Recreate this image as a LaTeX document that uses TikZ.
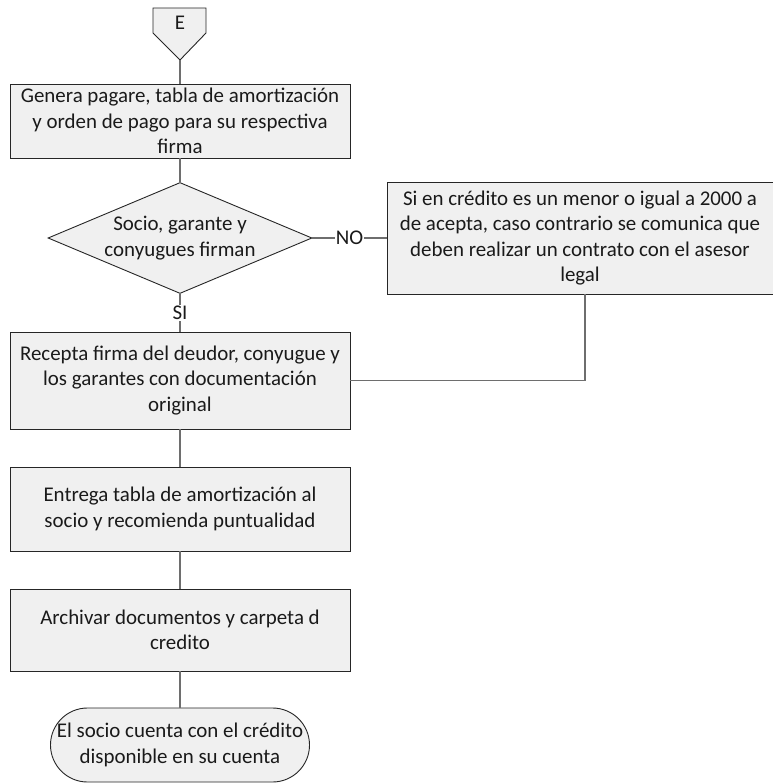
\documentclass[tikz,border=0pt]{standalone}
\usepackage{fontspec}
\setmainfont{Carlito}
\usetikzlibrary{shapes.geometric}
\definecolor{boxfill}{HTML}{F0F0F0}
\definecolor{boxline}{HTML}{262626}
\definecolor{conn}{HTML}{6E6E6E}
\definecolor{txt}{HTML}{1A1A1A}
\begin{document}
\begin{tikzpicture}[x=1bp,y=-1bp,
  every node/.style={font=\fontsize{21}{25.5}\selectfont, text=txt},
  procbox/.style={draw=boxline, line width=0.9bp, fill=boxfill, rectangle, align=center, inner sep=0pt},
  decbox/.style={draw=boxline, line width=0.9bp, fill=boxfill, diamond, inner sep=0pt},
  termbox/.style={draw=boxline, line width=0.9bp, fill=boxfill, rectangle, rounded corners=37bp, align=center, inner sep=0pt},
  conline/.style={draw=conn, line width=1.1bp},
  lbl/.style={fill=white, inner sep=1pt}
]
\useasboundingbox (0,0) rectangle (773,783);
% off-page connector
\draw[boxline, line width=0.9bp, fill=boxfill] (153,8) -- (206,8) -- (206,33) -- (180,60) -- (153,33) -- cycle;
\node (E) at (180,23) {E};
\coordinate (Etip) at (180,60);
% process boxes
\node[procbox, minimum width=340bp, minimum height=74bp] (b1) at (180,121)
  {Genera pagare, tabla de amortización\\y orden de pago para su respectiva\\firma};
\node[decbox, minimum width=264bp, minimum height=111bp] (dia) at (180,238) {};
\node[align=center] (diatext) at (180,238) {Socio, garante y\\conyugues firman};
\node[procbox, minimum width=386bp, minimum height=112bp] (rbox) at (580,238)
  {Si en crédito es un menor o igual a 2000 a\\de acepta, caso contrario se comunica que\\deben realizar un contrato con el asesor\\legal};
\node[procbox, minimum width=340bp, minimum height=97bp] (b3) at (180,380.5)
  {Recepta firma del deudor, conyugue y\\los garantes con documentación\\original};
\node[procbox, minimum width=340bp, minimum height=84bp] (b4) at (180,509)
  {Entrega tabla de amortización al\\socio y recomienda puntualidad};
\node[procbox, minimum width=340bp, minimum height=82bp] (b5) at (180,630)
  {Archivar documentos y carpeta d\\credito};
\node[termbox, minimum width=259bp, minimum height=74bp] (term) at (180,745)
  {El socio cuenta con el crédito\\disponible en su cuenta};
% connectors
\draw[conline] (Etip) -- (b1.north);
\draw[conline] (b1.south) -- (dia.north);
\draw[conline] (dia.east) -- node[lbl] {NO} (rbox.west);
\draw[conline] (dia.south) -- node[lbl] {SI} (b3.north);
\draw[conline] ([xshift=5bp]rbox.south) |- (b3.east);
\draw[conline] (b3.south) -- (b4.north);
\draw[conline] (b4.south) -- (b5.north);
\draw[conline] (b5.south) -- (term.north);
\end{tikzpicture}
\end{document}
